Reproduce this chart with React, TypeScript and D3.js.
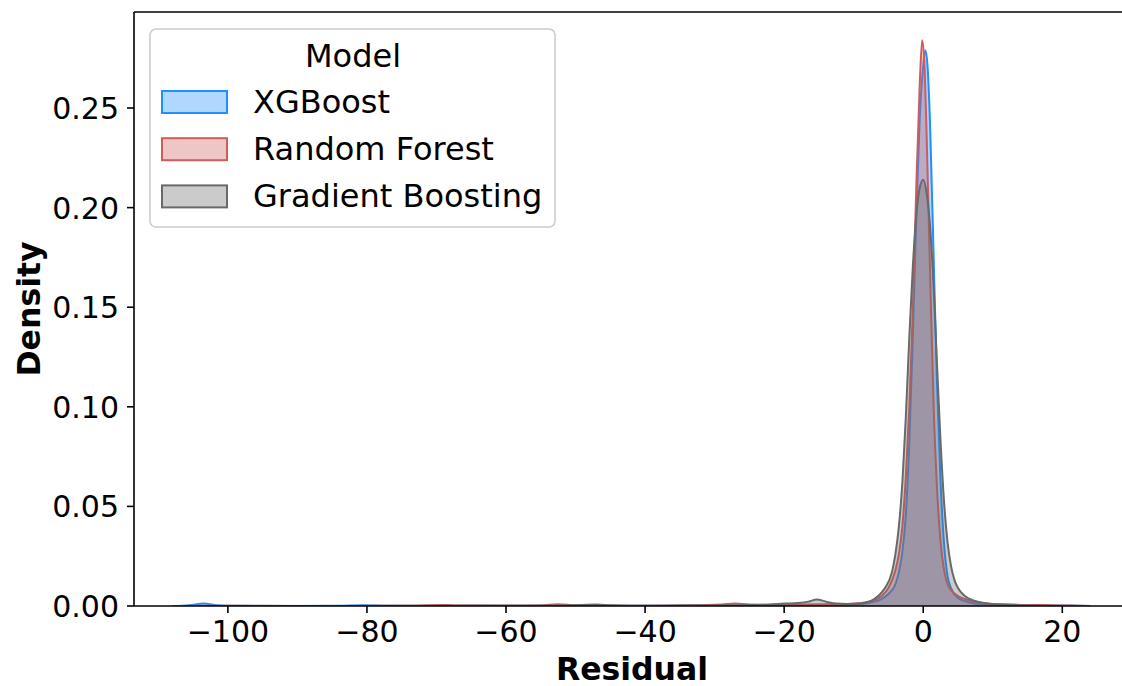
import React from "react";
import * as d3 from "d3";

// ---- data ----
const seriesNames = ["XGBoost", "Random Forest", "Gradient Boosting"];
const seriesColors = ["#1e90ff", "#cd5c5c", "#696969"];

const xgbX = [-108, -105.5, -103.5, -101.5, -99, -92, -84, -80.5, -77, -70, -60, -50, -40, -30, -22, -18, -14, -11, -9, -7, -6, -5, -4, -3.5, -3, -2.5, -2, -1.5, -1, -0.5, 0, 0.3, 0.6, 1, 1.5, 2, 2.5, 3, 3.5, 4, 5, 6, 7, 8, 10, 12, 15, 18, 21, 24];
const xgbY = [0, 0.0004, 0.0012, 0.0004, 0.0001, 0, 0.0001, 0.0004, 0.0001, 0, 0, 0.0001, 0.0001, 0.0002, 0.0004, 0.0006, 0.0008, 0.0008, 0.001, 0.0022, 0.0035, 0.006, 0.011, 0.017, 0.027, 0.046, 0.082, 0.135, 0.195, 0.245, 0.271, 0.279, 0.272, 0.24, 0.175, 0.11, 0.062, 0.031, 0.015, 0.009, 0.004, 0.0025, 0.0015, 0.001, 0.0008, 0.0006, 0.0004, 0.0003, 0.0003, 0];

const rfX = [-107, -100, -90, -75, -69, -67, -60, -55, -52.5, -50, -45, -35, -29, -27, -25, -20, -15, -11, -9, -7, -6, -5, -4, -3.5, -3, -2.5, -2, -1.5, -1, -0.5, -0.15, 0.2, 0.5, 1, 1.5, 2, 2.5, 3, 3.5, 4, 5, 6, 7, 8, 10, 12, 15, 18, 21, 24];
const rfY = [0, 0.0001, 0, 0.0001, 0.0005, 0.0003, 0.0001, 0.0003, 0.0009, 0.0003, 0.0001, 0.0002, 0.0008, 0.0012, 0.0007, 0.0006, 0.0007, 0.001, 0.0015, 0.003, 0.005, 0.009, 0.018, 0.026, 0.04, 0.065, 0.1, 0.148, 0.21, 0.262, 0.284, 0.27, 0.235, 0.165, 0.1, 0.058, 0.032, 0.018, 0.011, 0.008, 0.005, 0.0035, 0.0025, 0.0018, 0.001, 0.0008, 0.0005, 0.0004, 0.0002, 0];

const gbX = [-106, -95, -85, -72, -65, -55, -49, -47, -45, -40, -35, -30, -25, -22, -20, -18, -16.5, -15.3, -14, -12.5, -11, -9, -7.5, -6.5, -5.5, -4.5, -4, -3.5, -3, -2.5, -2, -1.5, -1, -0.5, 0, 0.5, 1, 1.5, 2, 2.5, 3, 3.5, 4, 4.5, 5, 6, 7, 8, 10, 12, 15, 18, 20];
const gbY = [0, 0.0001, 0, 0.0001, 0.0002, 0.0002, 0.0005, 0.0007, 0.0004, 0.0001, 0.0002, 0.0003, 0.0005, 0.0008, 0.0012, 0.0015, 0.0022, 0.0033, 0.0022, 0.0012, 0.001, 0.0012, 0.0025, 0.005, 0.009, 0.017, 0.026, 0.04, 0.062, 0.095, 0.135, 0.17, 0.196, 0.21, 0.214, 0.207, 0.19, 0.16, 0.12, 0.082, 0.052, 0.032, 0.02, 0.013, 0.009, 0.005, 0.003, 0.002, 0.001, 0.0006, 0.0003, 0.0001, 0];

const xTicks = [-100, -80, -60, -40, -20, 0, 20];
const yTicks = [0, 0.05, 0.1, 0.15, 0.2, 0.25];

const legendTitle = "Model";
const xLabel = "Residual";
const yLabel = "Density";

// ---- layout ----
const W = 1122;
const H = 686;
const left = 134;
const right = 1136;
const top = 12;
const bottom = 606;
const FONT = "'DejaVu Sans', sans-serif";

export default function App() {
  const x = d3.scaleLinear().domain([-113.5, 30.6]).range([left, right]);
  const y = d3.scaleLinear().domain([0, 0.2982]).range([bottom, top]);

  const series = [
    { xs: xgbX, ys: xgbY },
    { xs: rfX, ys: rfY },
    { xs: gbX, ys: gbY },
  ];

  const area = d3
    .area<[number, number]>()
    .x((d) => x(d[0]))
    .y0(y(0))
    .y1((d) => y(d[1]))
    .curve(d3.curveMonotoneX);
  const line = d3
    .line<[number, number]>()
    .x((d) => x(d[0]))
    .y((d) => y(d[1]))
    .curve(d3.curveMonotoneX);

  const fmtY = d3.format(".2f");
  const fmtX = (v: number) => (v < 0 ? "\u2212" + Math.abs(v) : String(v));

  return (
    <svg
      width={W}
      height={H}
      style={{ position: "absolute", left: 0, top: 0, background: "#fff" }}
      fontFamily={FONT}
    >
      <defs>
        <clipPath id="plotclip">
          <rect x={left} y={top} width={right - left} height={bottom - top} />
        </clipPath>
      </defs>
      <rect x={0} y={0} width={W} height={H} fill="#fff" />

      <g clipPath="url(#plotclip)">
        {series.map((s, i) => {
          const pts: [number, number][] = s.xs.map((v, j) => [v, s.ys[j]]);
          return (
            <g key={i}>
              <path d={area(pts) || ""} fill={seriesColors[i]} fillOpacity={0.35} />
              <path d={line(pts) || ""} fill="none" stroke={seriesColors[i]} strokeWidth={2} strokeLinejoin="round" />
            </g>
          );
        })}
      </g>

      {/* spines */}
      <line x1={left} x2={left} y1={top} y2={bottom} stroke="#000" strokeWidth={1.6} />
      <line x1={left} x2={right} y1={bottom} y2={bottom} stroke="#000" strokeWidth={1.6} />
      <line x1={left} x2={right} y1={top} y2={top} stroke="#000" strokeWidth={1.6} />
      <line x1={right} x2={right} y1={top} y2={bottom} stroke="#000" strokeWidth={1.6} />

      {/* x ticks */}
      {xTicks.map((t) => (
        <g key={"x" + t}>
          <line x1={x(t)} x2={x(t)} y1={bottom} y2={bottom + 7} stroke="#000" strokeWidth={1.6} />
          <text x={x(t)} y={642} textAnchor="middle" fontSize={30} fill="#000">
            {fmtX(t)}
          </text>
        </g>
      ))}

      {/* y ticks */}
      {yTicks.map((t) => (
        <g key={"y" + t}>
          <line x1={left - 7} x2={left} y1={y(t)} y2={y(t)} stroke="#000" strokeWidth={1.6} />
          <text x={left - 15} y={y(t) + 11} textAnchor="end" fontSize={30} fill="#000">
            {fmtY(t)}
          </text>
        </g>
      ))}

      {/* axis labels */}
      <text x={(left + right) / 2 - 3} y={680} textAnchor="middle" fontSize={31.5} fontWeight="bold" fill="#000">
        {xLabel}
      </text>
      <text
        transform={`translate(40, ${(top + bottom) / 2}) rotate(-90)`}
        textAnchor="middle"
        fontSize={31.5}
        fontWeight="bold"
        fill="#000"
      >
        {yLabel}
      </text>

      {/* legend */}
      <g>
        <rect x={150} y={29} width={405} height={198} rx={6} ry={6} fill="#fff" fillOpacity={0.8} stroke="#cccccc" strokeWidth={1.6} />
        <text x={353} y={67} textAnchor="middle" fontSize={32} fill="#000">
          {legendTitle}
        </text>
        {seriesNames.map((n, i) => {
          const cy = 102 + i * 47.2;
          return (
            <g key={n}>
              <rect x={162} y={cy - 11} width={65} height={22} fill={seriesColors[i]} fillOpacity={0.35} stroke={seriesColors[i]} strokeWidth={2} />
              <text x={253} y={cy + 11} fontSize={32} fill="#000">
                {n}
              </text>
            </g>
          );
        })}
      </g>
    </svg>
  );
}
